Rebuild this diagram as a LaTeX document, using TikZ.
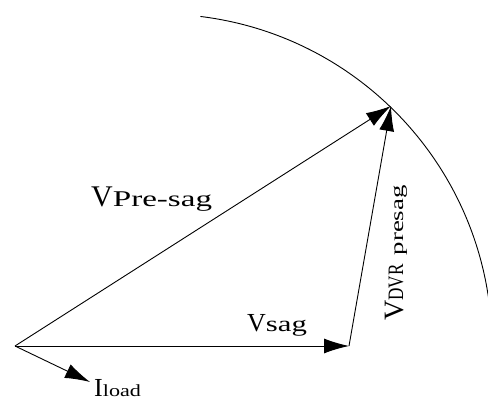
\documentclass[tikz,border=0pt]{standalone}
\usepackage{fontspec}
\setmainfont{Liberation Serif}
\usetikzlibrary{arrows.meta}
\begin{document}
\begin{tikzpicture}[x=1pt,y=1pt,
  vec/.style={draw=black, line width=0.9pt, -{Latex[length=25pt,width=15pt]}},
  lbl/.style={inner sep=0pt, anchor=base west, text=black}]
\useasboundingbox (0,0) rectangle (488,409);
\coordinate (O) at (15,63);
\coordinate (S) at (349,63);
\coordinate (P) at (391,303);
\coordinate (I) at (90,27);
\coordinate (C) at (160,63);
\begin{scope}
\clip (0,0) rectangle (488,409);
\draw[line width=0.9pt] (C) ++(83:332) arc[start angle=83, end angle=0, radius=332];
\end{scope}
\draw[vec] (O) -- (S);
\draw[vec] (O) -- (P);
\draw[vec] (S) -- (P);
\draw[vec] (O) -- (I);
\node[lbl] (lpre) at (91,202) {{\fontsize{30}{32}\selectfont V}\scalebox{1.47}[1]{\fontsize{22.5}{24}\selectfont Pre-sag}};
\node[lbl] (lsag) at (247,77) {{\fontsize{26}{28}\selectfont V}\scalebox{1.4}[1]{\fontsize{22}{24}\selectfont sag}};
\node[lbl] (lload) at (94,12) {{\fontsize{26}{28}\selectfont I}\scalebox{1.3}[1]{\fontsize{17}{19}\selectfont load}};
\node[lbl, rotate=90] (ldvr) at (403,88) {{\fontsize{28}{30}\selectfont V}\scalebox{0.78}[1]{\fontsize{22}{24}\selectfont DVR}\hspace{9pt}\scalebox{1.45}[1]{\fontsize{18.5}{20}\selectfont presag}};
\end{tikzpicture}
\end{document}
